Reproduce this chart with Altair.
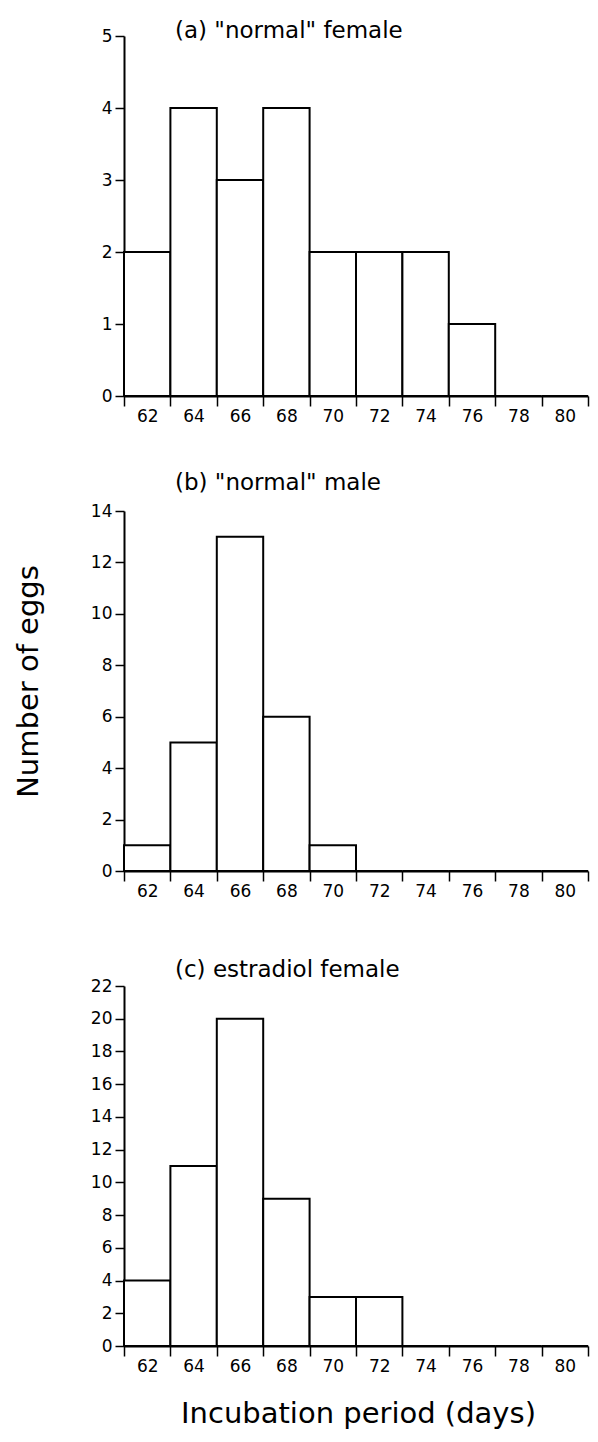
import altair as alt
import pandas as pd

# ---- data ----
days = ["62", "64", "66", "68", "70", "72", "74", "76", "78", "80"]
female_normal = [2, 4, 3, 4, 2, 2, 2, 1, 0, 0]
male_normal = [1, 5, 13, 6, 1, 0, 0, 0, 0, 0]
female_estradiol = [4, 11, 20, 9, 3, 3, 0, 0, 0, 0]

panel_titles = ['(a) "normal" female', '(b) "normal" male', '(c) estradiol female']
y_max = [5, 14, 22]
y_ticks_a = [0, 1, 2, 3, 4, 5]
y_ticks_b = [0, 2, 4, 6, 8, 10, 12, 14]
y_ticks_c = [0, 2, 4, 6, 8, 10, 12, 14, 16, 18, 20, 22]

y_title = "Number of eggs"
x_title = "Incubation period (days)"

FONT = "DejaVu Sans"
W = 464
H = 360


def panel(counts, title, ymax, yticks, title_offset, show_y_title=False, show_x_title=False):
    df = pd.DataFrame({"day": days, "count": counts})
    xkw = dict(
        labelAngle=0, labelFont=FONT, labelFontSize=17, labelColor="black",
        labelPadding=2, tickBand="extent", tickSize=10, tickWidth=1.5,
        tickColor="black", domainColor="black", domainWidth=2, grid=False,
    )
    if show_x_title:
        xkw.update(title=x_title, titleFont=FONT, titleFontSize=29,
                   titleFontWeight="normal", titleColor="black",
                   titleX=W / 2 + 2, titleY=67, titleAlign="center",
                   titleBaseline="middle")
    else:
        xkw.update(title=None)
    ykw = dict(
        values=yticks, labelFont=FONT, labelFontSize=17, labelColor="black",
        labelPadding=3, tickSize=9, tickWidth=1.5, tickColor="black",
        domainColor="black", domainWidth=2, grid=False,
    )
    if show_y_title:
        ykw.update(title=y_title, titleFont=FONT, titleFontSize=29,
                   titleFontWeight="normal", titleColor="black",
                   titleX=-96, titleY=170, titleAngle=270, titleAlign="center",
                   titleBaseline="middle")
    else:
        ykw.update(title=None)

    return alt.Chart(df).mark_bar(
        fill="white", stroke="black", strokeWidth=2
    ).encode(
        x=alt.X("day:O", sort=days,
                scale=alt.Scale(domain=days, paddingInner=0, paddingOuter=0),
                axis=alt.Axis(**xkw)),
        y=alt.Y("count:Q", scale=alt.Scale(domain=[0, ymax], nice=False),
                axis=alt.Axis(**ykw)),
    ).properties(
        width=W, height=H,
        title=alt.TitleParams(
            text=title, anchor="start", frame="group", dx=51,
            offset=title_offset, font=FONT, fontSize=23,
            fontWeight="normal", color="black",
        ),
    )


a = panel(female_normal, panel_titles[0], y_max[0], y_ticks_a, -16)
b = panel(male_normal, panel_titles[1], y_max[1], y_ticks_b, 7, show_y_title=True)
c = panel(female_estradiol, panel_titles[2], y_max[2], y_ticks_c, -5, show_x_title=True)

chart = alt.vconcat(a, b, c, spacing=115, bounds="flush").properties(
    padding={"top": 11, "left": 5, "right": 0, "bottom": 0},
    background="white",
).configure_view(stroke="transparent")

chart.save("out.html", embed_options={"renderer": "svg", "actions": False})
